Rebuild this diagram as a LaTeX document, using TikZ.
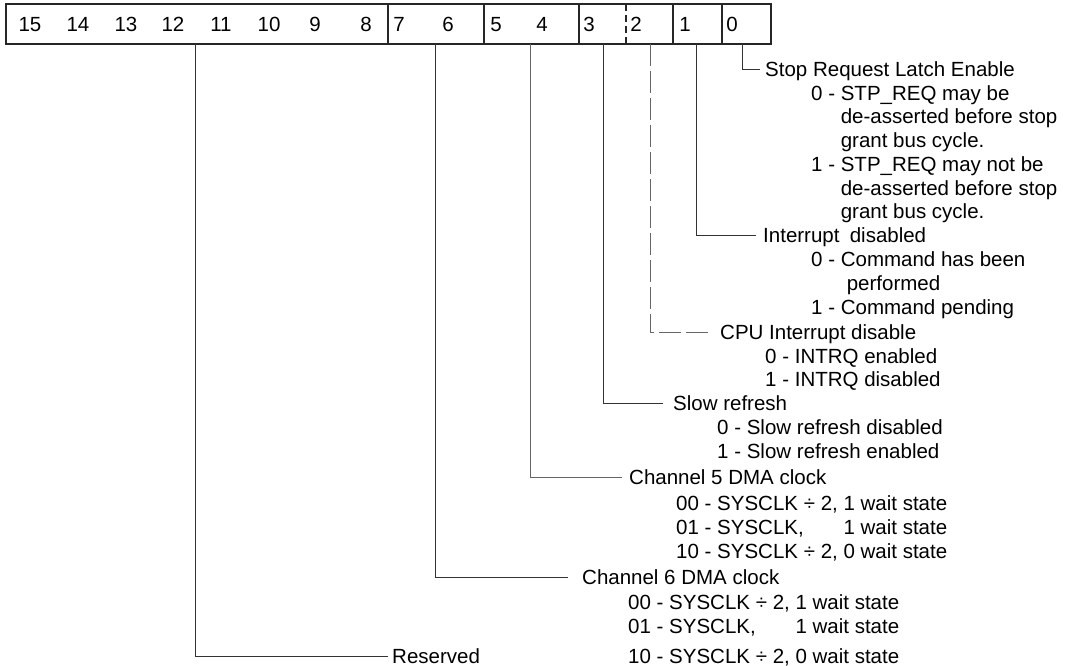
\documentclass[tikz,border=0pt]{standalone}
\usepackage{fontspec}
\setmainfont{Liberation Sans}
\begin{document}
\begin{tikzpicture}[x=1pt,y=-1pt,
  txt/.style={anchor=west, inner xsep=0pt, inner ysep=0pt, text height=14.5pt, text depth=0pt, font=\fontsize{20.5}{24}\selectfont},
  lbl/.style={txt},
  bitnum/.style={anchor=center, inner sep=0pt, text height=14.5pt, text depth=0pt, font=\fontsize{20.5}{24}\selectfont},
  wire/.style={draw=black!80, line width=0.9pt},
  lightwire/.style={draw=black!60, line width=0.9pt},
  brokenwire/.style={draw=black!60, line width=0.9pt, dash pattern=on 22pt off 5pt},
  regline/.style={draw=black!85, line width=1.2pt}
]
\useasboundingbox (0,0) rectangle (1084,666);

% register
\draw[regline] (6,4) rectangle (771,44);
\foreach \x in {388,484,579,673,722} \draw[regline] (\x,4) -- (\x,44);
\draw[regline, dash pattern=on 7pt off 4pt] (626,4) -- (626,44);

% bit numbers
\node[bitnum] (b15) at (30,24) {15};
\node[bitnum] (b14) at (78,24) {14};
\node[bitnum] (b13) at (126,24) {13};
\node[bitnum] (b12) at (173,24) {12};
\node[bitnum] (b11) at (221,24) {11};
\node[bitnum] (b10) at (269,24) {10};
\node[bitnum] (b9) at (315,24) {9};
\node[bitnum] (b8) at (366,24) {8};
\node[bitnum] (b7) at (399,24) {7};
\node[bitnum] (b6) at (448,24) {6};
\node[bitnum] (b5) at (496,24) {5};
\node[bitnum] (b4) at (542,24) {4};
\node[bitnum] (b3) at (589,24) {3};
\node[bitnum] (b2) at (636,24) {2};
\node[bitnum] (b1) at (685,24) {1};
\node[bitnum] (b0) at (732,24) {0};

% tap points at the bottom of the register
\coordinate (t0) at (742,44);
\coordinate (t1) at (696,44);
\coordinate (t2) at (650,44);
\coordinate (t3) at (603,44);
\coordinate (t4) at (530,44);
\coordinate (t6) at (435,44);
\coordinate (tr) at (195,44);

% bit 0
\node[lbl, inner xsep=5pt] (stop) at (760,69) {Stop Request Latch Enable};
\node[txt] (s1) at (811,93) {0 - STP\_REQ may be};
\node[txt] (s2) at (811,116) {\phantom{0 - }de-asserted before stop};
\node[txt] (s3) at (811,140) {\phantom{0 - }grant bus cycle.};
\node[txt] (s4) at (811,164) {1 - STP\_REQ may not be};
\node[txt] (s5) at (811,188) {\phantom{0 - }de-asserted before stop};
\node[txt] (s6) at (811,211) {\phantom{0 - }grant bus cycle.};
\draw[wire] (t0) |- (stop.west);

% bit 1
\node[lbl, inner xsep=7pt] (intd) at (756,235) {Interrupt\hspace{0.5em}disabled};
\node[txt] (i1) at (811,259) {0 - Command has been};
\node[txt] (i2) at (811,283) {\phantom{0 - }\hspace{6pt}performed};
\node[txt] (i3) at (811,307) {1 - Command pending};
\draw[wire] (t1) |- (intd.west);

% bit 2
\node[lbl, inner xsep=8pt] (cpu) at (712,332) {CPU Interrupt disable};
\node[txt] (c1) at (765,356) {0 - INTRQ enabled};
\node[txt] (c2) at (765,379) {1 - INTRQ disabled};
\draw[brokenwire] (t2) |- (cpu.west);

% bit 3
\node[lbl, inner xsep=10pt] (slow) at (663,403) {Slow refresh};
\node[txt] (r1) at (717,427) {0 - Slow refresh disabled};
\node[txt] (r2) at (717,451) {1 - Slow refresh enabled};
\draw[wire] (t3) |- (slow.west);

% bits 5-4
\node[lbl, inner xsep=7pt] (ch5) at (622,477) {Channel 5 DMA clock};
\node[txt] (d1) at (676,503) {00 - SYSCLK ÷ 2, 1 wait state};
\node[txt] (d2) at (676,527) {01 - SYSCLK,\phantom{ ÷ 2} 1 wait state};
\node[txt] (d3) at (676,551) {10 - SYSCLK ÷ 2, 0 wait state};
\draw[lightwire] (t4) |- (ch5.west);

% bits 7-6
\node[lbl, inner xsep=14pt] (ch6) at (568,577) {Channel 6 DMA clock};
\node[txt] (e1) at (628,602) {00 - SYSCLK ÷ 2, 1 wait state};
\node[txt] (e2) at (628,626) {01 - SYSCLK,\phantom{ ÷ 2} 1 wait state};
\node[txt] (e3) at (628,656) {10 - SYSCLK ÷ 2, 0 wait state};
\draw[wire] (t6) |- (ch6.west);

% bits 15-8
\node[lbl, inner xsep=4pt] (res) at (388,656) {Reserved};
\draw[wire] (tr) |- (res.west);
\end{tikzpicture}
\end{document}
